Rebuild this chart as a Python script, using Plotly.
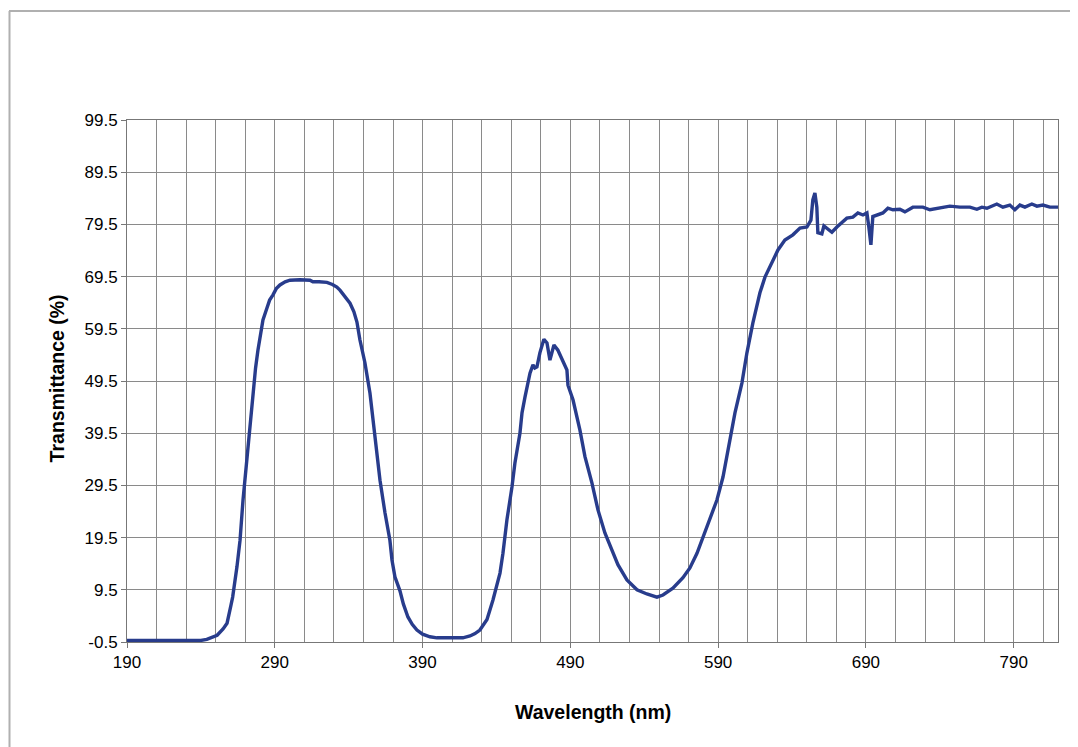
import plotly.graph_objects as go

wavelength_nm = [
    190, 200, 220, 240, 244, 248, 251, 255, 257.7, 260.4,
    261.5, 264.4, 266.5, 268.5, 271, 273, 275, 277, 278.6, 280.5,
    282, 284.7, 286.5, 288.8, 291, 293.5, 297, 300.3, 307, 313.8,
    315.8, 320, 325.3, 329, 332, 334.1, 337, 340.9, 343.5, 345.6,
    347.6, 351.0, 354.4, 357.8, 359.1, 361.2, 364.6, 367.9, 369.3, 371.3,
    374.7, 377, 380.1, 383, 386.2, 390, 395, 399.7, 405, 410,
    417.3, 422.1, 425.5, 428.8, 431, 433.6, 437.6, 440, 442.4, 444.4,
    447.1, 450.5, 452.5, 455.9, 457.3, 459.3, 462.7, 464.7, 466, 467.4,
    469.4, 472.1, 474.2, 476.2, 478.9, 481.6, 485.0, 487.7, 488.4, 491.8,
    496.5, 499.9, 504.6, 508.7, 513.4, 518.8, 522.2, 528.3, 535.1, 541.8,
    548.6, 552.7, 559.4, 566.2, 570.9, 575.7, 579.7, 584.5, 589.2, 593.3,
    596.0, 598.0, 601.4, 606.1, 609.5, 613.5, 618.3, 621.7, 626.4, 630.5,
    635.2, 640.6, 645.4, 650.1, 652.8, 654.1, 655.5, 656.8, 657.5, 660.2,
    661.6, 664.3, 667.0, 670.4, 673.8, 677.1, 681.2, 684.6, 688.0, 690.7,
    692.0, 693.4, 694.7, 697.4, 701.5, 704.9, 708.3, 713.0, 716.4, 721.8,
    728.6, 733.3, 742.1, 746.8, 753.6, 760.4, 765.1, 768.5, 771.9, 778.6,
    782.7, 787.4, 790.8, 794.2, 797.6, 802.3, 805.7, 809.8, 814.5, 820,
]

transmittance_pct = [
    -0.2, -0.2, -0.2, -0.2, 0.0, 0.4, 0.8, 2.0, 3.1, 6.6,
    8.1, 13.9, 19.0, 26.7, 34.0, 41.0, 47.0, 52.0, 55.4, 58.5,
    61.2, 63.5, 65.0, 66.0, 67.2, 67.9, 68.5, 68.8, 68.9, 68.8,
    68.5, 68.5, 68.4, 68.0, 67.5, 66.9, 65.8, 64.4, 62.8, 60.8,
    57.4, 53.0, 47.2, 38.8, 35.0, 30.5, 24.2, 19.0, 15.2, 12.0,
    9.3, 6.8, 4.3, 2.9, 1.8, 1.0, 0.5, 0.3, 0.3, 0.3,
    0.3, 0.65, 1.1, 1.8, 2.6, 3.8, 7.5, 10.0, 12.7, 16.5,
    22.9, 29.2, 33.8, 39.5, 43.4, 46.4, 51.0, 52.6, 52.0, 52.2,
    54.9, 57.5, 56.8, 53.5, 56.4, 55.4, 53.1, 51.6, 48.7, 45.9,
    40.1, 35.0, 30.0, 24.8, 20.4, 16.5, 14.3, 11.4, 9.5, 8.7,
    8.1, 8.5, 9.8, 11.8, 13.7, 16.5, 19.6, 22.9, 26.7, 31.1,
    35.0, 38.5, 43.4, 49.1, 54.9, 60.6, 66.4, 69.4, 72.1, 74.6,
    76.5, 77.5, 78.8, 79.0, 80.3, 84.2, 85.5, 82.8, 77.9, 77.7,
    79.2, 78.6, 78.0, 79.0, 79.8, 80.7, 80.9, 81.7, 81.3, 81.7,
    79.0, 75.6, 81.0, 81.3, 81.7, 82.6, 82.3, 82.4, 81.9, 82.8,
    82.8, 82.3, 82.8, 83.0, 82.8, 82.8, 82.4, 82.8, 82.6, 83.4,
    82.8, 83.2, 82.3, 83.2, 82.8, 83.4, 83.0, 83.2, 82.8, 82.8,
]

y_ticks = [-0.5, 9.5, 19.5, 29.5, 39.5, 49.5, 59.5, 69.5, 79.5, 89.5, 99.5]
x_ticks = [190, 290, 390, 490, 590, 690, 790]

assert len(wavelength_nm) == len(transmittance_pct)

FONT = "Liberation Sans, Arial, sans-serif"

# page body has an 8px margin; plot area placed at window px (127..1058, 120..642)
OFF = 8
PW, PH = 931, 522

fig = go.Figure()
fig.add_trace(go.Scatter(
    x=wavelength_nm, y=transmittance_pct, mode="lines",
    line=dict(color="#283c8c", width=3.4), showlegend=False,
))

fig.update_layout(
    width=1070, height=739,
    margin=dict(l=127 - OFF, r=20, t=120 - OFF, b=105, autoexpand=False),
    paper_bgcolor="white", plot_bgcolor="white",
    font=dict(family=FONT, color="black", size=17),
    xaxis=dict(
        range=[190, 820], tickvals=x_ticks, ticktext=[str(v) for v in x_ticks],
        showgrid=True, gridcolor="#8a8a8a", gridwidth=1,
        minor=dict(dtick=20, tick0=190, showgrid=True, gridcolor="#8a8a8a", gridwidth=1),
        ticks="outside", ticklen=5, tickcolor="#777777",
        showline=True, linecolor="#777777", linewidth=1, mirror=True,
        zeroline=False, tickfont=dict(size=17, family=FONT),
    ),
    yaxis=dict(
        range=[-0.5, 99.5], tickvals=y_ticks, ticktext=[str(v) for v in y_ticks],
        showgrid=True, gridcolor="#8a8a8a", gridwidth=1,
        ticks="outside", ticklen=5, tickcolor="#777777",
        showline=True, linecolor="#777777", linewidth=1, mirror=True,
        zeroline=False, tickfont=dict(size=17, family=FONT),
    ),
    annotations=[
        dict(text="<b>Wavelength (nm)</b>", xref="paper", yref="paper",
             x=0.5, y=(642 - 712) / PH, xanchor="center", yanchor="middle",
             showarrow=False, font=dict(size=19.5, family=FONT)),
        dict(text="<b>Transmittance (%)</b>", xref="paper", yref="paper",
             x=(57 - 127) / PW, y=0.505, xanchor="center", yanchor="middle",
             textangle=-90, showarrow=False, font=dict(size=19.5, family=FONT)),
    ],
    shapes=[
        dict(type="line", xref="paper", yref="paper",
             x0=(9 - 127) / PW, x1=(1078 - 127) / PW,
             y0=(642 - 11) / PH, y1=(642 - 11) / PH,
             line=dict(color="#b0b0b0", width=2)),
        dict(type="line", xref="paper", yref="paper",
             x0=(9.5 - 127) / PW, x1=(9.5 - 127) / PW,
             y0=(642 - 11) / PH, y1=(642 - 747) / PH,
             line=dict(color="#b0b0b0", width=2)),
    ],
)

fig.write_html("out.html")
